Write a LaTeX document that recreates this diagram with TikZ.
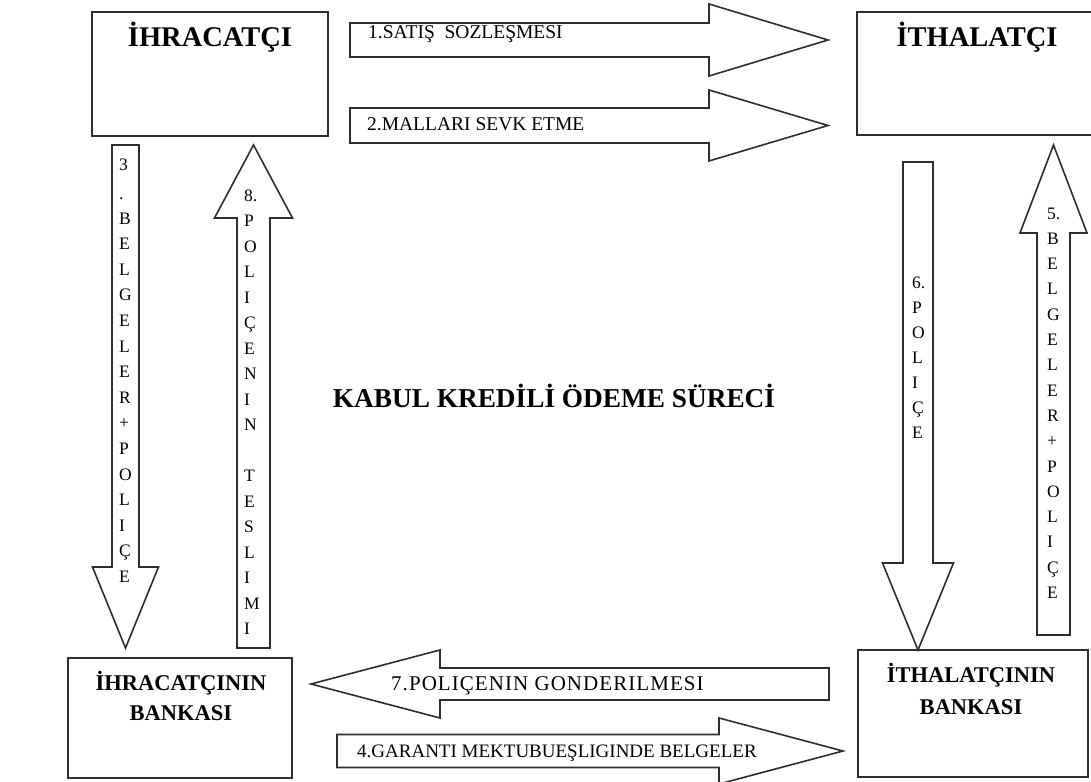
\documentclass[tikz,border=0pt]{standalone}
\usepackage{fontspec}
\setmainfont{Liberation Serif}

% horizontal block arrow: tail x, head-base x, tip x, mid y, shaft half-width, head half-width
\newcommand\blockH[6]{%
  \draw[blk] (#1,#4-#5) -- (#2,#4-#5) -- (#2,#4-#6) -- (#3,#4)
    -- (#2,#4+#6) -- (#2,#4+#5) -- (#1,#4+#5) -- cycle;}
% vertical block arrow: tail y, head-base y, tip y, mid x, shaft half-width, head half-width
\newcommand\blockV[6]{%
  \draw[blk] (#4-#5,#1) -- (#4-#5,#2) -- (#4-#6,#2) -- (#4,#3)
    -- (#4+#6,#2) -- (#4+#5,#2) -- (#4+#5,#1) -- cycle;}

\begin{document}
\begin{tikzpicture}[x=1bp,y=-1bp,
  frame/.style={draw=black!82, line width=1.8bp, fill=white, inner sep=0pt},
  blk/.style={draw=black!82, line width=1.6bp, fill=white, line join=miter},
  ttl/.style={font=\bfseries\fontsize{28.5bp}{30bp}\selectfont, inner sep=0pt, anchor=base},
  btl/.style={font=\bfseries\fontsize{22.5bp}{24bp}\selectfont, inner sep=0pt, anchor=base},
  lbl/.style={font=\fontsize{19.5bp}{21bp}\selectfont, inner sep=0pt, anchor=base west},
  vlet/.style={font=\fontsize{17.5bp}{18bp}\selectfont, inner sep=0pt, anchor=base west},
]
\fill[white] (0,0) rectangle (1091,782);
\clip (0,0) rectangle (1091,782);

% parties and banks
\node[frame, minimum width=236bp, minimum height=124bp] (ihr) at (210,74) {};
\node[frame, minimum width=243bp, minimum height=123bp] (ith) at (978.5,73.5) {};
\node[frame, minimum width=224bp, minimum height=120bp] (ihrB) at (180,718) {};
\node[frame, minimum width=230bp, minimum height=127bp] (ithB) at (973,713.5) {};

\node[ttl] (ihrT) at (210,47) {İHRACATÇI};
\node[ttl] (ithT) at (977,47) {İTHALATÇI};
\node[btl] (ihrB1) at (181,690.5) {İHRACATÇININ};
\node[btl] (ihrB2) at (181,720.5) {BANKASI};
\node[btl] (ithB1) at (971,682.5) {İTHALATÇININ};
\node[btl] (ithB2) at (971,714.5) {BANKASI};

% horizontal flows
\blockH{350}{709}{828}{40}{17}{36}
\blockH{350}{709}{828}{125.5}{17.5}{35.5}
\blockH{829}{440}{311}{684}{16}{34}
\blockH{337}{719}{843}{751}{16.5}{33}

\node[lbl] (f1) at (368,39) {1.SATIŞ\ \ SOZLEŞMESI};
\node[lbl] (f2) at (367,130) {2.MALLARI SEVK ETME};
\node[lbl, font={\fontsize{21bp}{22bp}\selectfont\addfontfeature{LetterSpace=5}}] (f7) at (391,690) {7.POLIÇENIN GONDERILMESI};
\node[lbl, font={\fontsize{19bp}{21bp}\selectfont}] (f4) at (357,757) {4.GARANTI MEKTUBUEŞLIGINDE BELGELER};

% vertical flows
\blockV{145}{567}{648}{125.5}{13.5}{33}
\blockV{648}{218}{145}{253.5}{16.5}{39}
\blockV{162}{563}{650}{918}{15}{35.5}
\blockV{635}{233}{145}{1053.5}{16.5}{33.5}

\node[vlet] (v3-a) at (119,170) {3};
\node[vlet] (v3-b) at (119,199) {.};
\foreach \c [count=\i from 0] in {B,E,L,G,E,L,E,R,+,P,O,L,I,Ç,E}
  \node[vlet] (v3-\i) at (119,224+25.6*\i) {\c};
\foreach \c [count=\i from 0] in {8.,P,O,L,I,Ç,E,N,I,N}
  \node[vlet] (v8a-\i) at (244,201+25.5*\i) {\c};
\foreach \c [count=\i from 11] in {T,E,S,L,I,M,I}
  \node[vlet] (v8b-\i) at (244,201+25.5*\i) {\c};
\foreach \c [count=\i from 0] in {6.,P,O,L,I,Ç,E}
  \node[vlet] (v6-\i) at (912,288+25*\i) {\c};
\foreach \c [count=\i from 0] in {5.,B,E,L,G,E,L,E,R,+,P,O,L,I,Ç,E}
  \node[vlet] (v5-\i) at (1047,219+25.3*\i) {\c};

% process title
\node[font=\bfseries\fontsize{27.3bp}{29bp}\selectfont, inner sep=0pt, anchor=base] (title) at (554,407) {KABUL KREDİLİ ÖDEME SÜRECİ};
\end{tikzpicture}
\end{document}
